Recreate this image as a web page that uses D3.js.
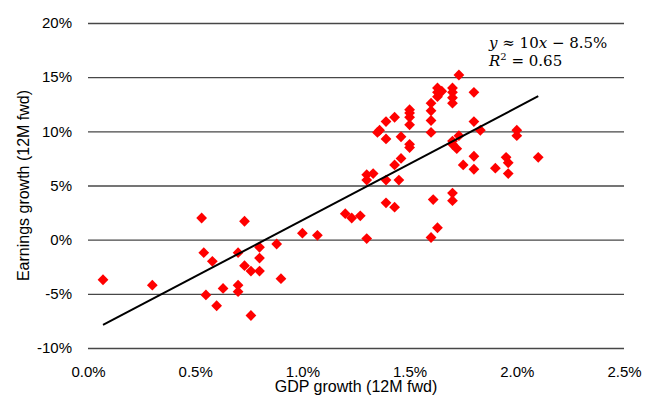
<!DOCTYPE html>
<html>
<head>
<meta charset="utf-8">
<script src="https://cdn.jsdelivr.net/npm/d3@7"></script>
<style>
  body { margin: 0; background: #fff; }
  svg { display: block; font-family: "Liberation Sans", Arial, sans-serif; }
</style>
</head>
<body>
<div id="chart"></div>
<script>
// GDP growth (12M fwd, %) vs earnings growth (12M fwd, %)
var gdpGrowth = [
  0.07, 0.30, 0.53, 0.54, 0.58, 0.55, 0.60, 0.63, 0.70, 0.70,
  0.70, 0.73, 0.73, 0.76, 0.76, 0.80, 0.80, 0.80, 0.88, 0.90,
  1.00, 1.07, 1.20, 1.23, 1.27, 1.30, 1.30, 1.30, 1.33, 1.39,
  1.43, 1.39, 1.45, 1.43, 1.46, 1.50, 1.50, 1.46, 1.39, 1.35,
  1.36, 1.39, 1.43, 1.50, 1.50, 1.50, 1.50, 1.60, 1.60, 1.60,
  1.60, 1.63, 1.63, 1.65, 1.63, 1.70, 1.70, 1.70, 1.70, 1.73,
  1.80, 1.80, 1.83, 1.73, 1.70, 1.70, 1.72, 1.75, 1.80, 1.80,
  1.90, 1.95, 1.96, 1.96, 2.10, 2.00, 2.00, 1.61, 1.70, 1.70,
  1.63, 1.60
];
var earningsGrowth = [
  -3.7, -4.2, 2.0, -1.2, -2.0, -5.1, -6.1, -4.5, -1.2, -4.2,
  -4.8, 1.7, -2.4, -2.9, -7.0, -2.9, -0.7, -1.7, -0.4, -3.6,
  0.6, 0.4, 2.4, 2.0, 2.2, 0.1, 6.0, 5.5, 6.1, 3.4,
  3.0, 5.5, 5.5, 6.9, 7.5, 8.8, 8.5, 9.5, 9.3, 9.9,
  10.1, 10.9, 11.3, 12.0, 11.7, 11.3, 10.6, 12.6, 11.9, 11.0,
  9.9, 14.0, 13.6, 13.7, 13.2, 14.0, 13.6, 13.1, 12.6, 15.2,
  13.6, 10.9, 10.1, 9.6, 9.1, 8.8, 8.4, 6.9, 7.7, 6.5,
  6.6, 7.6, 7.1, 6.1, 7.6, 10.1, 9.6, 3.7, 4.3, 3.6,
  1.1, 0.2
];
var xTicks = [0, 0.5, 1.0, 1.5, 2.0, 2.5];
var yTicks = [-10, -5, 0, 5, 10, 15, 20];
// fitted trend line drawn in the reference
var trendSlope = 10.4;
var trendIntercept = -8.6;

var W = 658, H = 398;
var margin = { top: 23, right: 34, bottom: 50, left: 88 };
var plotW = W - margin.left - margin.right;
var plotH = H - margin.top - margin.bottom;

var x = d3.scaleLinear().domain([0, 2.5]).range([0, plotW]);
var y = d3.scaleLinear().domain([-10, 20]).range([plotH, 0]);

var svg = d3.select('#chart').append('svg')
    .attr('width', W)
    .attr('height', H);

var g = svg.append('g')
    .attr('transform', 'translate(' + margin.left + ',' + margin.top + ')');

// horizontal gridlines + y labels
var yAxis = g.append('g')
    .call(d3.axisLeft(y)
      .tickValues(yTicks)
      .tickSize(-plotW)
      .tickPadding(16)
      .tickFormat(function (d) { return d + '%'; }));
yAxis.select('.domain').remove();
yAxis.selectAll('.tick line')
    .attr('stroke', '#474747')
    .attr('stroke-width', 1.4);
yAxis.selectAll('.tick text')
    .attr('fill', '#000')
    .style('font-size', '15px')
    .style('font-family', '"Liberation Sans", Arial, sans-serif');

// x labels, no ticks or axis line
var xAxis = g.append('g')
    .attr('transform', 'translate(0,' + plotH + ')')
    .call(d3.axisBottom(x)
      .tickValues(xTicks)
      .tickSize(0)
      .tickPadding(18)
      .tickFormat(function (d) { return d3.format('.1f')(d) + '%'; }));
xAxis.select('.domain').remove();
xAxis.selectAll('.tick text')
    .attr('fill', '#000')
    .style('font-size', '15px')
    .style('font-family', '"Liberation Sans", Arial, sans-serif');

// scatter points as red diamonds
var diamond = d3.symbol().type(d3.symbolSquare).size(58);
g.selectAll('path.pt')
    .data(gdpGrowth)
  .enter().append('path')
    .attr('class', 'pt')
    .attr('d', diamond)
    .attr('transform', function (d, i) {
      return 'translate(' + x(d) + ',' + y(earningsGrowth[i]) + ') rotate(45)';
    })
    .attr('fill', '#ff0000');

// trend line across the data range
var xMin = d3.min(gdpGrowth), xMax = d3.max(gdpGrowth);
g.append('line')
    .attr('x1', x(xMin))
    .attr('y1', y(trendSlope * xMin + trendIntercept))
    .attr('x2', x(xMax))
    .attr('y2', y(trendSlope * xMax + trendIntercept))
    .attr('stroke', '#000')
    .attr('stroke-width', 2);

// equation annotation
var eqFont = '"DejaVu Serif", "Liberation Serif", serif';
var eq = svg.append('text')
    .attr('x', 489)
    .attr('y', 48)
    .style('font-family', eqFont)
    .style('font-size', '15px')
    .attr('fill', '#000');
eq.append('tspan').style('font-style', 'italic').text('y');
eq.append('tspan').text(' \u2248 10');
eq.append('tspan').style('font-style', 'italic').text('x');
eq.append('tspan').text(' \u2212 8.5%');

var r2 = svg.append('text')
    .attr('x', 489)
    .attr('y', 66)
    .style('font-family', eqFont)
    .style('font-size', '15px')
    .attr('fill', '#000');
r2.append('tspan').style('font-style', 'italic').text('R');
r2.append('tspan').attr('dy', -6).style('font-size', '10px').text('2');
r2.append('tspan').attr('dy', 6).text(' = 0.65');

// axis titles
svg.append('text')
    .attr('x', margin.left + plotW / 2)
    .attr('y', 392)
    .attr('text-anchor', 'middle')
    .style('font-size', '16px')
    .text('GDP growth (12M fwd)');

svg.append('text')
    .attr('transform', 'translate(29,' + (margin.top + plotH / 2) + ') rotate(-90)')
    .attr('text-anchor', 'middle')
    .style('font-size', '16px')
    .text('Earnings growth (12M fwd)');
</script>
</body>
</html>
